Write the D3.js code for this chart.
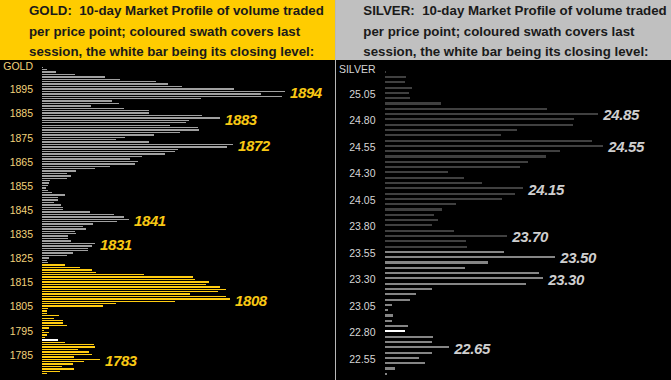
<!DOCTYPE html>
<html><head><meta charset="utf-8">
<script src="https://cdn.jsdelivr.net/npm/d3@7"></script>
<style>html,body{margin:0;padding:0;background:#000;overflow:hidden}svg{display:block}</style>
</head><body><div id="chart"></div>
<script>
// ---------- GOLD ----------
const goldPrices = [1904,1903,1902,1901,1900,1899,1898,1897,1896,1895,1894,1893,1892,1891,1890,1889,1888,1887,1886,1885,
  1884,1883,1882,1881,1880,1879,1878,1877,1876,1875,1874,1873,1872,1871,1870,1869,1868,1867,1866,1865,
  1864,1863,1862,1861,1860,1859,1858,1857,1856,1855,1854,1853,1852,1851,1850,1849,1848,1847,1846,1845,
  1844,1843,1842,1841,1840,1839,1838,1837,1836,1835,1834,1833,1832,1831,1830,1829,1828,1827,1826,1825,
  1824,1823,1822,1821,1820,1819,1818,1817,1816,1815,1814,1813,1812,1811,1810,1809,1808,1807,1806,1805,
  1804,1803,1802,1801,1800,1799,1798,1797,1796,1795,1794,1793,1792,1791,1790,1789,1788,1787,1786,1785,
  1784,1783,1782,1781,1780,1779,1778,1777];
const goldVolume = [1,5,14,33,63,78,114,126,140,192,243,219,240,159,70,77,49,82,107,107,
  160,178,147,144,128,156,157,138,112,83,74,107,191,185,136,133,123,100,88,96,
  93,68,53,34,25,29,25,8,7,6,4,6,10,23,16,16,12,19,21,21,
  48,72,82,87,75,51,41,44,33,34,26,26,29,53,50,46,46,31,25,7,
  5,6,23,38,50,54,102,151,153,167,164,178,184,176,148,184,188,133,74,61,
  6,5,5,17,12,21,21,25,7,2,7,5,3,16,23,52,53,36,47,50,
  32,58,42,31,20,32,18,5];
const goldSwathTop = 1822;      // last session: from here down
const goldClose = 1791;         // white bar
const goldPeaks = [1894,1883,1872,1841,1831,1808,1783];
const goldTicks = [1895,1885,1875,1865,1855,1845,1835,1825,1815,1805,1795,1785];

// ---------- SILVER ----------
const silverPrices = [25.25,25.20,25.15,25.10,25.05,25.00,24.95,24.90,24.85,24.80,24.75,24.70,24.65,24.60,24.55,24.50,24.45,24.40,
  24.35,24.30,24.25,24.20,24.15,24.10,24.05,24.00,23.95,23.90,23.85,23.80,23.75,23.70,23.65,23.60,23.55,23.50,23.45,23.40,
  23.35,23.30,23.25,23.20,23.15,23.10,23.05,23.00,22.95,22.90,22.85,22.80,22.75,22.70,22.65,22.60,22.55,22.50,22.45,22.40];
const silverVolume = [1,21,20,27,24,25,56,162,213,189,188,132,116,207,218,175,161,143,
  135,63,79,97,138,130,117,71,57,49,53,47,69,122,81,82,119,170,103,80,
  154,158,141,47,31,25,7,3,8,7,23,20,48,47,64,47,34,40,10,2];
const silverSwathTop = 23.55;
const silverClose = 22.80;
const silverPeaks = [24.85,24.55,24.15,23.70,23.50,23.30,22.65];
const silverTicks = [25.05,24.80,24.55,24.30,24.05,23.80,23.55,23.30,23.05,22.80,22.55];

const goldTitle = ["GOLD:  10-day Market Profile of volume traded",
  "per price point; coloured swath covers last",
  "session, the white bar being its closing level:"];
const silverTitle = ["SILVER:  10-day Market Profile of volume traded",
  "per price point; coloured swath covers last",
  "session, the white bar being its closing level:"];

const W = 671, H = 380;
const FONT = "'Liberation Sans', Arial, Helvetica, sans-serif";
const svg = d3.select("#chart").append("svg").attr("width", W).attr("height", H)
  .style("font-family", FONT);

function panel(cfg) {
  const g = svg.append("g");
  g.append("rect").attr("x", cfg.x0).attr("y", 0).attr("width", cfg.w).attr("height", 60).attr("fill", cfg.headBg);
  g.append("rect").attr("x", cfg.x0).attr("y", 60).attr("width", cfg.w).attr("height", H - 60).attr("fill", "#000");
  g.append("text").attr("x", cfg.x0 + cfg.titleX).attr("font-size", "13.3px").attr("font-weight", "bold")
    .attr("fill", "#1a1a1a").style("white-space", "pre").attr("xml:space", "preserve")
    .selectAll("tspan").data(cfg.title).join("tspan")
    .attr("x", cfg.x0 + cfg.titleX).attr("y", (d, i) => 15 + i * 20.7).text(d => d);

  const y = d3.scaleBand().domain(cfg.prices).range(cfg.yRange).paddingInner(cfg.pad).paddingOuter(cfg.pad / 2);
  const x = d3.scaleLinear().domain([0, 250]).range([cfg.barX, cfg.barX + 250]);
  const data = cfg.prices.map((p, i) => ({ p, v: cfg.vols[i] }));

  g.append("g").attr("shape-rendering", "crispEdges").selectAll("rect").data(data).join("rect")
    .attr("x", x(0)).attr("y", d => y(d.p)).attr("height", y.bandwidth())
    .attr("width", d => Math.max(0, x(d.v) - x(0)))
    .attr("fill", d => d.p === cfg.close ? "#ffffff" : (d.p <= cfg.swathTop + 1e-9 ? cfg.swathColor : cfg.barColor));

  const mid = p => y(p) + y.bandwidth() / 2;
  g.append("text").attr("x", cfg.tickX).attr("y", cfg.nameY).attr("text-anchor", "end")
    .attr("font-size", "10.5px").attr("fill", cfg.tickColor).text(cfg.name);
  g.append("g").selectAll("text").data(cfg.ticks).join("text")
    .attr("x", cfg.tickX).attr("y", d => mid(d) + cfg.tickDy).attr("text-anchor", "end")
    .attr("font-size", "10.5px").attr("fill", cfg.tickColor).text(cfg.fmt);
  g.append("g").selectAll("text").data(cfg.peaks).join("text")
    .attr("x", d => x(cfg.vols[cfg.prices.indexOf(d)]) + 5).attr("y", d => mid(d) + cfg.peakDy)
    .attr("font-size", "15px").attr("font-weight", "bold").attr("font-style", "italic")
    .attr("letter-spacing", "-0.4px").attr("fill", cfg.peakColor).text(cfg.fmt);
}

panel({ x0: 0, w: 335.5, headBg: "#FFCC00", title: goldTitle, titleX: 29,
  prices: goldPrices, vols: goldVolume, yRange: [66.1, 374.9], pad: 0.42, barX: 42,
  close: goldClose, swathTop: goldSwathTop, swathColor: "#FFCC11", barColor: "#A0A0A0",
  name: "GOLD", nameY: 70, tickX: 33, tickDy: 4.3, tickColor: "#F2D27A", ticks: goldTicks,
  peaks: goldPeaks, peakDy: 6.7, peakColor: "#F8C814", fmt: d => String(d) });

panel({ x0: 335.5, w: W - 335.5, headBg: "#C0C0C0", title: silverTitle, titleX: 27.8,
  prices: silverPrices, vols: silverVolume, yRange: [69.05, 376.45], pad: 0.6, barX: 385.3,
  close: silverClose, swathTop: silverSwathTop, swathColor: "#858585", barColor: "#404040",
  name: "SILVER", nameY: 72.5, tickX: 375.5, tickDy: 5, tickColor: "#D6D6D6", ticks: silverTicks,
  peaks: silverPeaks, peakDy: 6.2, peakColor: "#CFCFCF", fmt: d => d.toFixed(2) });

svg.append("line").attr("x1", 335.5).attr("x2", 335.5).attr("y1", 0).attr("y2", H)
  .attr("stroke", "#B8B8B8").attr("stroke-width", 1);
</script>
</body></html>
